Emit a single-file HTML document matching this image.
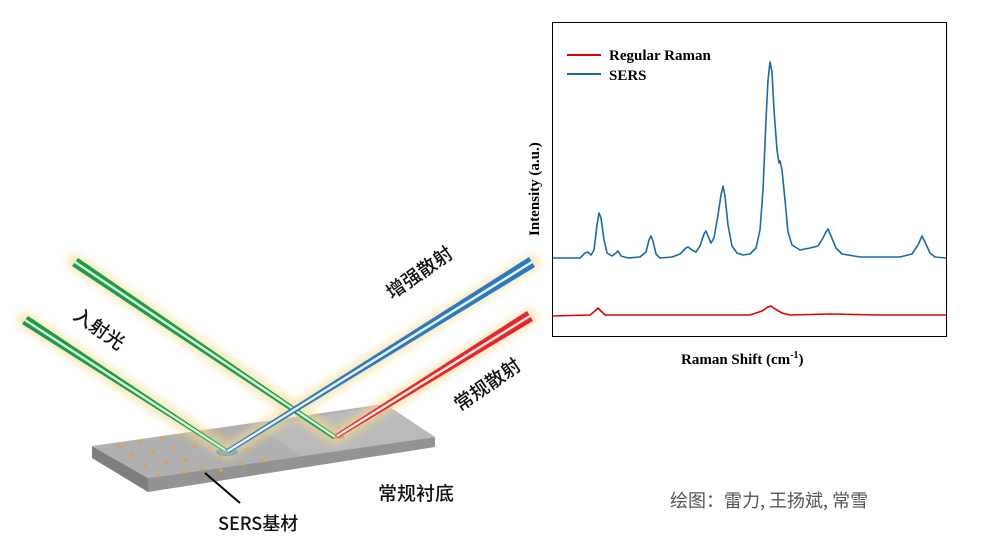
<!DOCTYPE html>
<html><head><meta charset="utf-8"><style>
body{margin:0;background:#fff;width:986px;height:556px;overflow:hidden;font-family:"Liberation Sans","Noto Sans CJK SC",sans-serif}
svg{position:absolute;left:0;top:0}
</style></head><body>
<svg width="986" height="556" viewBox="0 0 986 556">
<defs>
<filter id="blur" x="-20%" y="-20%" width="140%" height="140%"><feGaussianBlur stdDeviation="4"/></filter>
</defs>
<polygon points="92,458 148,492 148,478 92,446" fill="#7e7e7e"/>
<polygon points="148,492 435,447 435,437 148,478" fill="#939393"/>
<polygon points="92,446 385,404 435,437 148,478" fill="#b0b0b0"/>
<polygon points="260,428 385,404 435,437 300,456" fill="#bababa"/>
<g fill="#e0a050">
<circle cx="120" cy="446" r="1.8"/><circle cx="141" cy="442" r="1.8"/><circle cx="162" cy="438" r="1.8"/><circle cx="182" cy="437" r="1.8"/><circle cx="203" cy="432" r="1.8"/><circle cx="222" cy="432" r="1.8"/>
<circle cx="132" cy="455" r="1.8"/><circle cx="153" cy="452" r="1.8"/><circle cx="173" cy="448" r="1.8"/><circle cx="195" cy="446" r="1.8"/><circle cx="247" cy="449" r="1.8"/>
<circle cx="145" cy="465" r="1.8"/><circle cx="166" cy="462" r="1.8"/><circle cx="186" cy="460" r="1.8"/><circle cx="220" cy="458" r="1.8"/><circle cx="243" cy="464" r="1.8"/><circle cx="262" cy="461" r="1.8"/>
<circle cx="160" cy="476" r="1.8"/><circle cx="182" cy="472" r="1.8"/><circle cx="203" cy="469" r="1.8"/><circle cx="221" cy="470" r="1.8"/>
</g>
<ellipse cx="227" cy="452" rx="11" ry="4" fill="#3a8ad0"/>
<ellipse cx="337" cy="436" rx="7" ry="3" fill="#e85030"/>
<g stroke="#f5d98a" stroke-width="16" opacity="0.6" filter="url(#blur)" stroke-linecap="round">
<line x1="75" y1="262" x2="335" y2="437"/><line x1="25" y1="320" x2="225" y2="450"/>
<line x1="532" y1="262" x2="228" y2="451"/><line x1="530" y1="316" x2="337" y2="436"/>
</g>
<g>
<polygon points="72,266 78,258 337,436 333,439" fill="#1f9a4a"/>
<line x1="75" y1="262" x2="335" y2="437" stroke="#d0f5d8" stroke-width="2.5"/>
<polygon points="22,324 28,316 227,449 223,451" fill="#1f9a4a"/>
<line x1="25" y1="320" x2="225" y2="450" stroke="#d0f5d8" stroke-width="2.5"/>
<polygon points="529,257 535,267 229,453 227,449" fill="#2d79c0"/>
<line x1="532" y1="262" x2="228" y2="451" stroke="#e6f2ff" stroke-width="2.5"/>
<polygon points="527,311 533,321 338,438 336,434" fill="#e8262a"/>
<line x1="530" y1="316" x2="337" y2="436" stroke="#ffe6e6" stroke-width="2.5"/>
</g>
<line x1="205" y1="473" x2="240" y2="503" stroke="#000" stroke-width="2"/>
<g font-family="'Noto Sans CJK SC','WenQuanYi Zen Hei',sans-serif" font-size="19" font-weight="500" fill="#111">
<text transform="translate(72,318) rotate(35)">入射光</text>
<text transform="translate(392,300) rotate(-35)">增强散射</text>
<text transform="translate(460,412) rotate(-35)">常规散射</text>
<text x="378" y="500">常规衬底</text>
<text x="218" y="530" font-size="18">SERS基材</text>
</g>
<text x="670" y="507" font-family="'Noto Sans CJK SC',sans-serif" font-size="18" fill="#555">绘图：雷力, 王扬斌, 常雪</text>
<rect x="552.5" y="22.5" width="394" height="314" fill="#fff" stroke="#000" stroke-width="1"/>
<line x1="567" y1="55" x2="601" y2="55" stroke="#e00000" stroke-width="2"/>
<line x1="567" y1="74" x2="601" y2="74" stroke="#1a6aa5" stroke-width="2"/>
<g font-family="'Liberation Serif',serif" font-weight="bold" font-size="15" fill="#000">
<text x="609" y="60">Regular Raman</text>
<text x="609" y="80">SERS</text>
<text x="681" y="364">Raman Shift (cm<tspan dy="-6" font-size="10">-1</tspan><tspan dy="6">)</tspan></text>
<text transform="translate(539,236) rotate(-90)">Intensity (a.u.)</text>
</g>
<path fill="none" stroke="#1a6aa5" stroke-width="1.6" stroke-linejoin="round" d="M553,258 L580,258 585,253 588,252 591,255 594,250 597,225 599,213 601,218 604,240 607,253 612,256 616,253 618,251 621,256 628,258 640,257 646,252 649,240 651,236 653,241 656,254 660,258 672,257 680,254 686,248 688,247 692,250 696,252 700,246 704,234 706,231 708,236 711,243 714,238 718,215 721,195 723,186 725,196 728,225 732,246 737,253 743,255 750,254 756,248 760,230 763,190 766,120 768,80 770,62 772,72 774,110 777,150 779,163 780,161 782,170 785,200 788,232 792,245 800,250 810,248 818,246 823,238 826,232 828,229 831,236 836,248 842,254 860,257 900,257 912,254 918,245 922,236 925,242 930,253 935,257 946,258"/>
<path fill="none" stroke="#e00000" stroke-width="1.6" d="M553,316 L590,315 595,311 598,308 601,311 605,315 640,315 700,315 750,315 762,311 768,307 771,306 775,309 782,313 790,315 830,314 880,315 946,315"/>
</svg>
</body></html>
